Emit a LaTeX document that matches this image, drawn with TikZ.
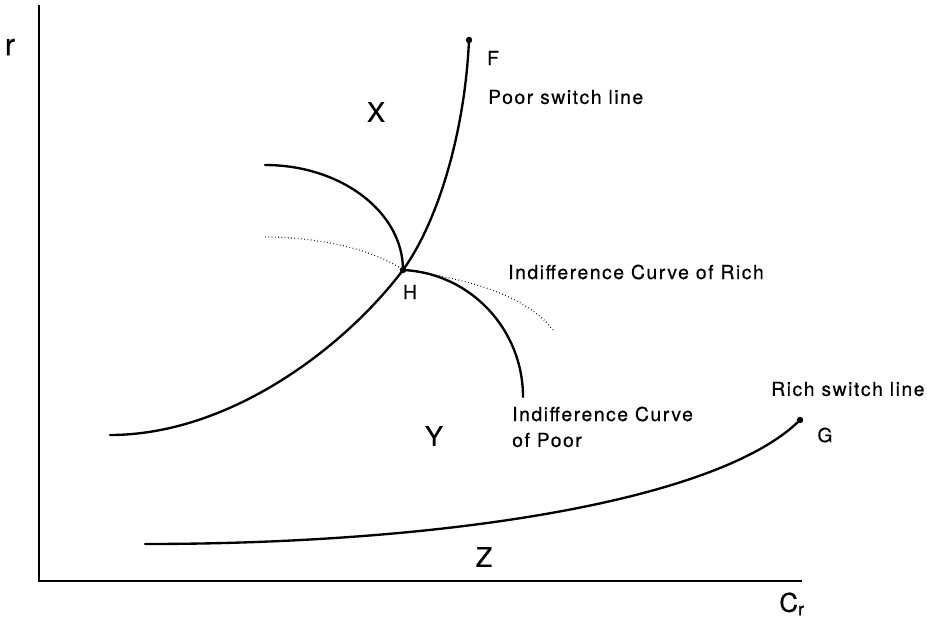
\documentclass[tikz,border=0pt]{standalone}
\usepackage{fontspec}
\setmainfont{TeX Gyre Heros}[LetterSpace=8,FakeBold=0.5]
\begin{document}
\begin{tikzpicture}[x=0.03cm,y=-0.03cm,
  curve/.style={line width=2pt,line cap=round},
  axis/.style={line width=2pt},
  rich/.style={line width=1pt,dash pattern=on 0.6pt off 2.2pt},
  lbl/.style={inner sep=0pt,font=\fontsize{16.5}{20}\selectfont},
  big/.style={inner sep=0pt,font=\fontsize{23}{26}\selectfont},
  dotp/.style={circle,fill=black,inner sep=0pt,minimum size=5.5pt}]
\useasboundingbox (0,0) rectangle (927,624);
% axes
\coordinate (top) at (39,5);
\coordinate (O) at (39,581);
\coordinate (right) at (802,581);
\draw[axis] (top) -- (O) -- (right);
\node[inner sep=0pt,font=\fontsize{26}{28}\selectfont] (r) at (10,47) {r};
\node[inner sep=0pt,font=\fontsize{22}{24}\selectfont] (cr) at (792,604) {C$_{\mathrm{r}}$};
% key points
\coordinate (F) at (469,40);
\coordinate (H) at (403,270);
\coordinate (G) at (800,420);
\coordinate (P0) at (110,435);
\coordinate (IP0) at (265,165);
\coordinate (IP1) at (523,397);
\coordinate (IR0) at (265,237);
\coordinate (IR1) at (553,330);
\coordinate (R0) at (145,544);
% poor switch line
\draw[curve] (P0) .. controls (230,435) and (345,347) .. (H)
  .. controls (439,220) and (465,130) .. (F);
% indifference curve of poor
\draw[curve] (IP0) .. controls (341,165) and (403,212) .. (H);
\draw[curve] (H) .. controls (470,273) and (523,329) .. (IP1);
% indifference curve of rich
\draw[rich] (IR0) .. controls (320,237) and (375,250) .. (H)
  .. controls (480,280) and (530,300) .. (IR1);
% rich switch line
\draw[curve] (R0) .. controls (450,544) and (720,500) .. (G);
% dots
\node[dotp] (dF) at (F) {};
\node[dotp] (dH) at (H) {};
\node[dotp] (dG) at (G) {};
% labels
\node[lbl] (lF) at (493,58) {F};
\node[lbl,anchor=west] (lpsl) at (488,97) {Poor switch line};
\node[big] (lX) at (376,112) {X};
\node[lbl,anchor=west] (licr) at (508,272) {Indifference Curve of Rich};
\node[lbl] (lH) at (410,292) {H};
\node[lbl,anchor=west] (licp1) at (512,414) {Indifference Curve};
\node[lbl,anchor=west] (licp2) at (512,440) {of Poor};
\node[big] (lY) at (434,436) {Y};
\node[lbl,anchor=west] (lrsl) at (771,389) {Rich switch line};
\node[lbl] (lG) at (825,435) {G};
\node[big] (lZ) at (484,557) {Z};
\end{tikzpicture}
\end{document}
